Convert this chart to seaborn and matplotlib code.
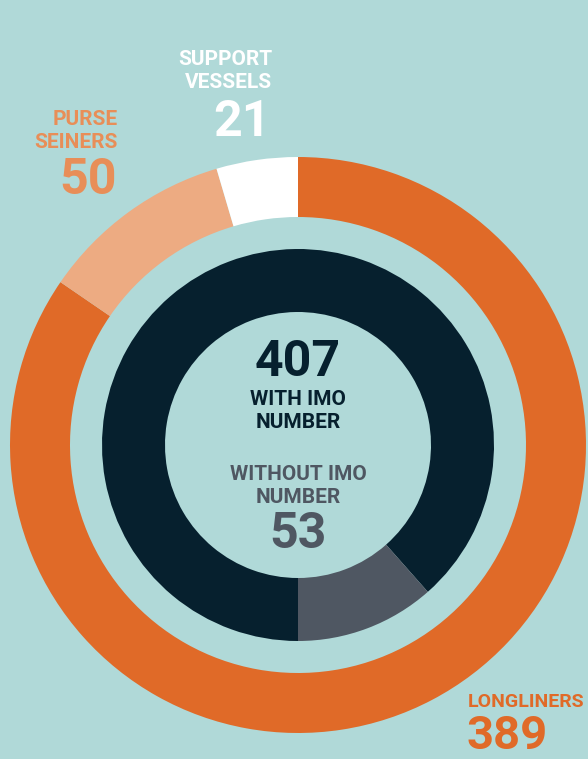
import matplotlib.pyplot as plt
import seaborn as sns

# fleet split (outer ring) and IMO split (inner ring)
fleet_labels = ["LONGLINERS", "PURSE\nSEINERS", "SUPPORT\nVESSELS"]
fleet_counts = [389, 50, 21]
imo_labels = ["WITH IMO\nNUMBER", "WITHOUT IMO\nNUMBER"]
imo_counts = [407, 53]

bg = "#b0d9d8"
fleet_colors = ["#e06a28", "#edab82", "#ffffff"]
imo_colors = ["#06202e", "#4f5762"]

sns.set_style("white")
plt.rcParams["font.family"] = ["Roboto", "DejaVu Sans"]
plt.rcParams["font.weight"] = "bold"

fig = plt.figure(figsize=(5.88, 7.59), dpi=100, facecolor=bg)
ax = fig.add_axes([0, 0, 1, 1])
ax.set_facecolor(bg)

H = 759
cx, cy = 298, H - 445

ax.pie(fleet_counts, colors=fleet_colors, startangle=90, counterclock=False,
       radius=288, center=(cx, cy), frame=True,
       wedgeprops=dict(width=60, linewidth=0))
ax.pie(imo_counts, colors=imo_colors, startangle=-90, counterclock=False,
       radius=196, center=(cx, cy), frame=True,
       wedgeprops=dict(width=63, linewidth=0))

ax.set_xlim(0, 588)
ax.set_ylim(0, H)
ax.set_aspect("equal")
ax.axis("off")

lab = dict(fontsize=15, fontweight="bold", linespacing=1.3)
num = dict(fontsize=36, fontweight="bold")

# support vessels
ax.text(272, H - 71, fleet_labels[2], color="white", ha="right", va="center", **lab)
ax.text(271, H - 123, str(fleet_counts[2]), color="white", ha="right", va="center", **num)
# purse seiners
ax.text(118, H - 131, fleet_labels[1], color="#e88e58", ha="right", va="center", **lab)
ax.text(117, H - 180, str(fleet_counts[1]), color="#e88e58", ha="right", va="center", **num)
# longliners
ax.text(468, H - 702, fleet_labels[0], color="#e06a28", ha="left", va="center",
        fontsize=14, fontweight="bold")
ax.text(466, H - 749, str(fleet_counts[0]), color="#e06a28", ha="left", va="baseline",
        fontsize=34, fontweight="bold")

# centre
ax.text(cx, H - 362, str(imo_counts[0]), color=imo_colors[0], ha="center", va="center", **num)
ax.text(cx, H - 411, imo_labels[0], color=imo_colors[0], ha="center", va="center", **lab)
ax.text(cx, H - 486, imo_labels[1], color=imo_colors[1], ha="center", va="center", **lab)
ax.text(cx, H - 535, str(imo_counts[1]), color=imo_colors[1], ha="center", va="center", **num)

fig.savefig("out.png", dpi=100, facecolor=bg)
